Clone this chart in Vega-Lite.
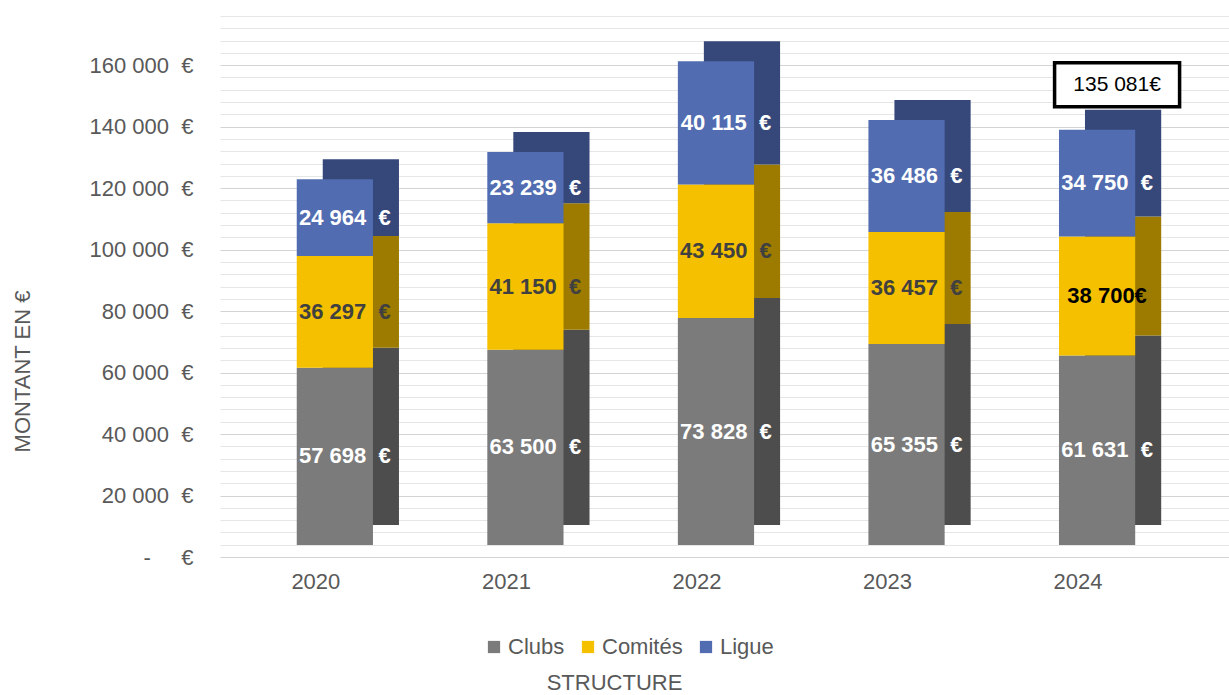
{
  "$schema": "https://vega.github.io/schema/vega-lite/v6.json",
  "width": 1009,
  "height": 541,
  "autosize": {"type": "none"},
  "padding": {"left": 220, "top": 16, "right": 0, "bottom": 138},
  "background": "white",
  "config": {
    "font": "Liberation Sans",
    "view": {"stroke": null}
  },
  "datasets": {
    "parts": [
      {"year": "2020", "structure": "Clubs", "value": 57698, "label": "57 698\u00a0\u00a0€"},
      {"year": "2020", "structure": "Comités", "value": 36297, "label": "36 297\u00a0\u00a0€"},
      {"year": "2020", "structure": "Ligue", "value": 24964, "label": "24 964\u00a0\u00a0€"},
      {"year": "2021", "structure": "Clubs", "value": 63500, "label": "63 500\u00a0\u00a0€"},
      {"year": "2021", "structure": "Comités", "value": 41150, "label": "41 150\u00a0\u00a0€"},
      {"year": "2021", "structure": "Ligue", "value": 23239, "label": "23 239\u00a0\u00a0€"},
      {"year": "2022", "structure": "Clubs", "value": 73828, "label": "73 828\u00a0\u00a0€"},
      {"year": "2022", "structure": "Comités", "value": 43450, "label": "43 450\u00a0\u00a0€"},
      {"year": "2022", "structure": "Ligue", "value": 40115, "label": "40 115\u00a0\u00a0€"},
      {"year": "2023", "structure": "Clubs", "value": 65355, "label": "65 355\u00a0\u00a0€"},
      {"year": "2023", "structure": "Comités", "value": 36457, "label": "36 457\u00a0\u00a0€"},
      {"year": "2023", "structure": "Ligue", "value": 36486, "label": "36 486\u00a0\u00a0€"},
      {"year": "2024", "structure": "Clubs", "value": 61631, "label": "61 631\u00a0\u00a0€"},
      {"year": "2024", "structure": "Comités", "value": 38700, "label": "38 700€"},
      {"year": "2024", "structure": "Ligue", "value": 34750, "label": "34 750\u00a0\u00a0€"}
    ],
    "totals": [
      {"year": "2024", "total": 135081, "label": "135 081€"}
    ]
  },
  "data": {"name": "parts"},
  "encoding": {
    "x": {
      "field": "year",
      "type": "nominal",
      "scale": {"paddingInner": 0.6, "paddingOuter": 0.4475, "align": 0.45},
      "axis": {
        "title": "STRUCTURE",
        "titleFontSize": 22,
        "titleFontWeight": "normal",
        "titleColor": "#595959",
        "titleX": 394,
        "titleY": 125,
        "titleBaseline": "middle",
        "labelAngle": 0,
        "labelFontSize": 22,
        "labelColor": "#595959",
        "labelOffset": -19,
        "labelPadding": 14,
        "ticks": false,
        "domain": false,
        "grid": false
      }
    }
  },
  "layer": [
    {
      "mark": {"type": "bar", "xOffset": 26, "yOffset": -32},
      "encoding": {
        "y": {
          "field": "value",
          "type": "quantitative",
          "stack": "zero",
          "title": "MONTANT EN €",
          "scale": {"domain": [0, 176000], "nice": false},
          "axis": {
            "title": "MONTANT EN €",
            "titleFontSize": 22,
            "titleFontWeight": "normal",
            "titleColor": "#595959",
            "titleX": -198,
            "titleY": 355,
            "titleAngle": -90,
            "titleBaseline": "middle",
            "titleAlign": "center",
            "tickCount": 100,
            "values": [0, 4000, 8000, 12000, 16000, 20000, 24000, 28000, 32000, 36000, 40000, 44000, 48000, 52000, 56000, 60000, 64000, 68000, 72000, 76000, 80000, 84000, 88000, 92000, 96000, 100000, 104000, 108000, 112000, 116000, 120000, 124000, 128000, 132000, 136000, 140000, 144000, 148000, 152000, 156000, 160000, 164000, 168000, 172000, 176000],
            "labelExpr": "datum.value % 20000 === 0 && datum.value <= 160000 ? (datum.value === 0 ? '-\u00a0\u00a0\u00a0\u00a0\u00a0€' : replace(format(datum.value, ','), ',', ' ') + '\u00a0\u00a0€') : ''",
            "labelOverlap": false,
            "labelFontSize": 22,
            "labelColor": "#595959",
            "labelPadding": 27,
            "ticks": false,
            "domain": false,
            "grid": true,
            "gridColor": {"condition": {"test": "datum.value % 20000 === 0", "value": "#d4d4d4"}, "value": "#e6e6e6"},
            "gridWidth": 1
          }
        },
        "order": {"field": "structure", "sort": "ascending"},
        "color": {
          "field": "structure",
          "type": "nominal",
          "scale": {"domain": ["Clubs", "Comités", "Ligue"], "range": ["#4d4d4d", "#9c7b00", "#36487a"]},
          "legend": null
        }
      }
    },
    {
      "mark": {"type": "bar", "yOffset": -12},
      "encoding": {
        "y": {"field": "value", "type": "quantitative", "stack": "zero", "title": "MONTANT EN €"},
        "order": {"field": "structure", "sort": "ascending"},
        "color": {
          "field": "structure",
          "type": "nominal",
          "scale": {"domain": ["Clubs", "Comités", "Ligue"], "range": ["#7b7b7b", "#f5c000", "#516cb0"]},
          "legend": {
            "title": null,
            "orient": "none",
            "legendX": 263,
            "legendY": 620,
            "direction": "horizontal",
            "symbolType": "square",
            "symbolSize": 150,
            "symbolStrokeWidth": 0,
            "labelFontSize": 22,
            "labelColor": "#595959",
            "labelOffset": 3,
            "columnPadding": 12
          }
        }
      }
    },
    {
      "mark": {"type": "text", "fontSize": 22, "fontWeight": "bold", "dx": 10, "yOffset": -12, "baseline": "middle", "align": "center"},
      "encoding": {
        "y": {"field": "value", "type": "quantitative", "stack": "zero", "bandPosition": 0.5, "title": "MONTANT EN €"},
        "detail": {"field": "structure"},
        "order": {"field": "structure", "sort": "ascending"},
        "text": {"field": "label"},
        "color": {
          "condition": [
            {"test": "datum.structure !== 'Comités'", "value": "#ffffff"},
            {"test": "datum.year === '2024'", "value": "#000000"}
          ],
          "value": "#404040"
        }
      }
    },
    {
      "data": {"name": "totals"},
      "mark": {"type": "point", "shape": "M-1,-0.352L1,-0.352L1,0.352L-1,0.352Z", "size": 15625, "filled": true, "fill": "#ffffff", "stroke": "#000000", "strokeWidth": 3.5, "opacity": 1, "xOffset": 20, "yOffset": -57},
      "encoding": {
        "y": {"field": "total", "type": "quantitative", "title": "MONTANT EN €"}
      }
    },
    {
      "data": {"name": "totals"},
      "mark": {"type": "text", "fontSize": 21, "color": "#000000", "xOffset": 20, "yOffset": -57, "baseline": "middle", "align": "center"},
      "encoding": {
        "y": {"field": "total", "type": "quantitative", "title": "MONTANT EN €"},
        "text": {"field": "label"}
      }
    }
  ],
  "resolve": {"scale": {"color": "independent"}}
}
